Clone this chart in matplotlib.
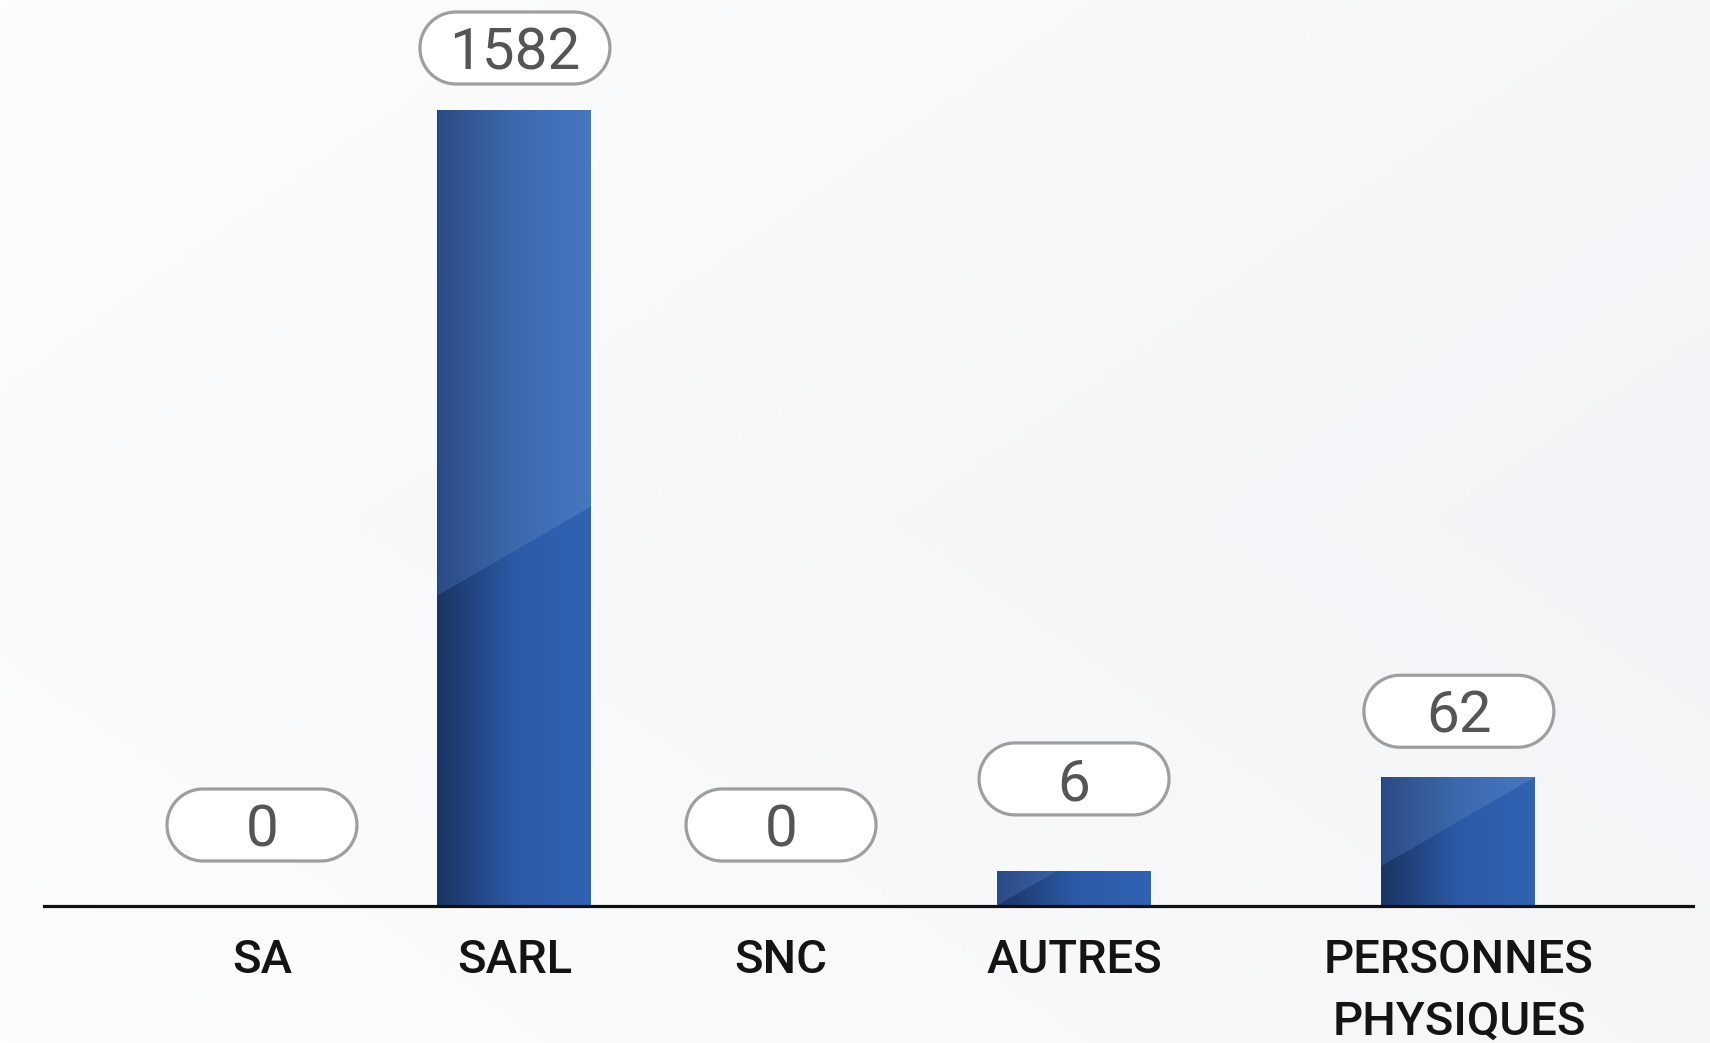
import numpy as np
import matplotlib
matplotlib.use("Agg")
import matplotlib.pyplot as plt
from matplotlib.colors import LinearSegmentedColormap
from matplotlib.patches import Polygon
from matplotlib.transforms import IdentityTransform

# data
categories = ["SA", "SARL", "SNC", "AUTRES", "PERSONNES\nPHYSIQUES"]
values = [0, 1582, 0, 6, 62]

# layout (slot centres are not evenly spaced in the original)
slots = [0.0, 0.846, 1.736, 2.716, 4.003]
label_gap_px = [45, 26, 45, 56, 29]
BAR_W = 0.518
POWER = 0.56  # infographic uses a compressed vertical scale

W, H, DPI = 1710, 1043, 100
fig = plt.figure(figsize=(W / DPI, H / DPI), dpi=DPI)

# soft background gradient
bg = fig.add_axes([0, 0, 1, 1], zorder=-5)
gx = np.linspace(0, 1, 256)
gy = np.linspace(0, 1, 128)
gxx, gyy = np.meshgrid(gx, gy)
shade = 0.7 * gxx + 0.3 * (1 - np.abs(gyy - 0.5) * 2)
bg_cmap = LinearSegmentedColormap.from_list("bg", ["#fdfdfd", "#f3f4f7"])
bg.imshow(shade, cmap=bg_cmap, aspect="auto", extent=[0, 1, 0, 1], vmin=0, vmax=1)
bg.axis("off")

ax = fig.add_axes([44 / W, 1 - 906 / H, (1693 - 44) / W, 906 / H])
ax.patch.set_alpha(0)
ax.set_yscale("function", functions=(lambda v: np.power(np.clip(v, 0, None), POWER),
                                     lambda v: np.power(np.clip(v, 0, None), 1 / POWER)))
ytop = max(values) * (906 / 796) ** (1 / POWER)
ax.set_ylim(0, ytop)
ax.set_xlim(-0.729, 4.786)

for s in ["top", "right", "left"]:
    ax.spines[s].set_visible(False)
ax.spines["bottom"].set_linewidth(2.3)
ax.spines["bottom"].set_color("#111111")
ax.set_yticks([])
ax.set_xticks(slots)
ax.set_xticklabels(categories, fontsize=34, fontfamily="Roboto", fontweight="medium",
                   color="#141414", linespacing=1.5)
ax.tick_params(axis="x", length=0, pad=23)

lower_cmap = LinearSegmentedColormap.from_list("lo", ["#1a3464", "#2c5aa6", "#3163b3"])
upper_cmap = LinearSegmentedColormap.from_list("hi", ["#2b4b84", "#3d69ae", "#4777c0"])
grad = np.linspace(0, 1, 128).reshape(1, -1)

bars = ax.bar(slots, values, width=BAR_W, color="none", edgecolor="none")
fig.canvas.draw()
to_px = ax.transData

for rect, v in zip(bars, values):
    if v <= 0:
        continue
    x0, x1 = rect.get_x(), rect.get_x() + rect.get_width()
    base_img = ax.imshow(grad, cmap=lower_cmap, aspect="auto",
                         extent=[x0, x1, 0, v], zorder=2)
    base_img.set_clip_path(rect)
    # glossy diagonal highlight over the upper part
    (px0, py0), (px1, py1) = to_px.transform([(x0, 0), (x1, v)])
    hpx = py1 - py0
    wpx = px1 - px0
    slope = 0.58
    rise = slope * wpx
    start = min(0.39 * hpx, max(0.0, hpx - rise))
    pts = [(px0, py0 + start)]
    end_y = py0 + start + rise
    if end_y > py1:
        pts.append((px0 + (py1 - py0 - start) / slope, py1))
    else:
        pts += [(px1, end_y), (px1, py1)]
    pts.append((px0, py1))
    poly = Polygon(to_px.inverted().transform(pts), closed=True,
                   transform=ax.transData, facecolor="none", edgecolor="none")
    ax.add_patch(poly)
    hi_img = ax.imshow(grad, cmap=upper_cmap, aspect="auto",
                       extent=[x0, x1, 0, v], zorder=3)
    hi_img.set_clip_path(poly)


def pill_outline(cx, cy, w, h):
    r = h / 2
    t = np.linspace(-np.pi / 2, np.pi / 2, 40)
    right = np.column_stack([cx + w / 2 - r + r * np.cos(t), cy + r * np.sin(t)])
    left = np.column_stack([cx - w / 2 + r - r * np.cos(t), cy - r * np.sin(t)])
    return np.vstack([right, left])


# value pills
BOX_W, BOX_H = 190, 72
for x, v, gap in zip(slots, values, label_gap_px):
    cx, top = to_px.transform((x, v))
    cy = top + gap + BOX_H / 2
    pill = Polygon(pill_outline(cx, cy, BOX_W, BOX_H), closed=True,
                   transform=IdentityTransform(), facecolor="white",
                   edgecolor="#9e9e9e", linewidth=2.3, zorder=5)
    fig.add_artist(pill)
    fig.text(cx / W, cy / H, f"{v}", ha="center", va="center_baseline",
             fontsize=42, fontfamily="Roboto", fontweight="normal", color="#555555",
             zorder=6)

ax.set_ylim(0, ytop)
fig.savefig("out.png", dpi=DPI)
